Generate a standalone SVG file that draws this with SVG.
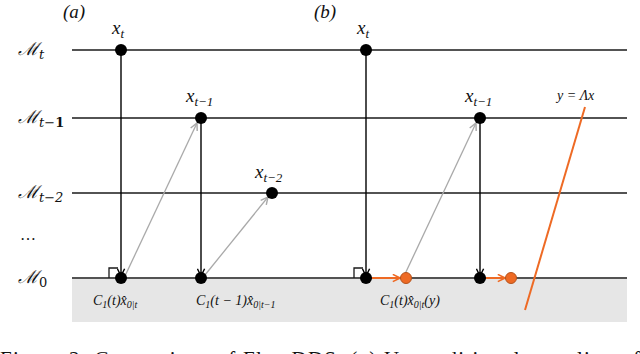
<svg xmlns="http://www.w3.org/2000/svg" width="640" height="354" viewBox="0 0 640 354">
<defs>
<style>
.lvl{stroke:#1a1a1a;stroke-width:1.3;fill:none}
.vert{stroke:#000;stroke-width:1.4;fill:none}
.gray{stroke:#a9a9a9;stroke-width:1.3;fill:none}
.or{stroke:#EE6A24;stroke-width:2;fill:none}
.dot{fill:#000}
.odot{fill:#EE6A24;stroke:#B5531C;stroke-width:1}
.m{font-family:"DejaVu Serif","Liberation Serif",serif;font-style:italic;font-size:18px;fill:#111}
.x{font-family:"Liberation Serif","DejaVu Serif",serif;font-style:italic;font-size:19px;fill:#111}
.sub{font-size:13px}
.lab{font-family:"Liberation Serif","DejaVu Serif",serif;font-style:italic;font-size:14px;fill:#111}
.cap{font-family:"Liberation Serif",serif;font-size:21px;fill:#111}
</style>
<marker id="ab" viewBox="0 0 10 10" refX="9" refY="5" markerWidth="9" markerHeight="9" markerUnits="userSpaceOnUse" orient="auto"><path d="M1,1 L9,5 L1,9" fill="none" stroke="#000" stroke-width="1.6"/></marker>
<marker id="ag" viewBox="0 0 10 10" refX="9" refY="5" markerWidth="9" markerHeight="9" markerUnits="userSpaceOnUse" orient="auto"><path d="M1,1 L9,5 L1,9" fill="none" stroke="#a9a9a9" stroke-width="1.6"/></marker>
<marker id="ao" viewBox="0 0 10 10" refX="9" refY="5" markerWidth="9" markerHeight="9" markerUnits="userSpaceOnUse" orient="auto"><path d="M1,1 L9,5 L1,9" fill="none" stroke="#EE6A24" stroke-width="1.8"/></marker>
</defs>
<rect width="640" height="354" fill="#fff"/>
<rect x="72" y="279" width="555" height="43" fill="#e6e6e6"/>

<g id="levels">
<line class="lvl" x1="72" y1="50" x2="627" y2="50"/>
<line class="lvl" x1="72" y1="118" x2="627" y2="118"/>
<line class="lvl" x1="72" y1="193" x2="627" y2="193"/>
<line class="lvl" x1="72" y1="278" x2="627" y2="278"/>
</g>

<g id="level-labels">
<text class="m" x="18" y="55">ℳ<tspan class="sub" dy="4">t</tspan></text>
<text class="m" x="18" y="123">ℳ<tspan class="sub" dy="4">t−</tspan><tspan class="sub" font-style="normal" font-weight="bold">1</tspan></text>
<text class="m" x="18" y="198">ℳ<tspan class="sub" dy="4">t−2</tspan></text>
<text x="20" y="240" font-family="Liberation Serif,serif" font-size="16" fill="#111">…</text>
<text class="m" x="18" y="283">ℳ<tspan class="sub" dy="4" font-style="normal">0</tspan></text>
<text class="x" x="63" y="18" font-size="18">(a)</text>
<text class="x" x="314" y="18" font-size="18">(b)</text>
</g>

<g id="connectors">
<line class="vert" x1="121" y1="50" x2="121" y2="276" marker-end="url(#ab)"/>
<line class="vert" x1="201" y1="118" x2="201" y2="276" marker-end="url(#ab)"/>
<line class="gray" x1="125" y1="276" x2="197" y2="123" marker-end="url(#ag)"/>
<line class="gray" x1="205" y1="275" x2="268" y2="197" marker-end="url(#ag)"/>
<path class="lvl" d="M109,278 V268 H118"/>
<line class="vert" x1="366" y1="50" x2="366" y2="276" marker-end="url(#ab)"/>
<line class="vert" x1="480" y1="118" x2="480" y2="276" marker-end="url(#ab)"/>
<line class="gray" x1="405" y1="274" x2="476" y2="123" marker-end="url(#ag)"/>
<path class="lvl" d="M354,278 V268 H363"/>
<line class="or" x1="372" y1="278" x2="400" y2="278" marker-end="url(#ao)"/>
<line class="or" x1="486" y1="278" x2="505" y2="278" marker-end="url(#ao)"/>
<line class="or" x1="585" y1="107" x2="525" y2="310"/>
</g>

<g id="node-a-xt"><circle class="dot" cx="121" cy="50" r="6"/><text class="x" x="112" y="34">x<tspan class="sub" dy="4">t</tspan></text></g>
<g id="node-a-xt1"><circle class="dot" cx="201" cy="118" r="6"/><text class="x" x="186" y="102">x<tspan class="sub" dy="4">t−1</tspan></text></g>
<g id="node-a-xt2"><circle class="dot" cx="272" cy="193" r="6"/><text class="x" x="255" y="178">x<tspan class="sub" dy="4">t−2</tspan></text></g>
<g id="node-a-c1"><circle class="dot" cx="121" cy="278" r="6"/><text class="lab" x="93" y="305">C<tspan font-size="10" dy="3">1</tspan><tspan dy="-3">(t)x̂</tspan><tspan font-size="10" dy="3">0|t</tspan></text></g>
<g id="node-a-c2"><circle class="dot" cx="201" cy="278" r="6"/><text class="lab" x="196" y="305">C<tspan font-size="10" dy="3">1</tspan><tspan dy="-3">(t − 1)x̂</tspan><tspan font-size="10" dy="3">0|t−1</tspan></text></g>

<g id="node-b-xt"><circle class="dot" cx="366" cy="50" r="6"/><text class="x" x="357" y="34">x<tspan class="sub" dy="4">t</tspan></text></g>
<g id="node-b-xt1"><circle class="dot" cx="480" cy="118" r="6"/><text class="x" x="465" y="102">x<tspan class="sub" dy="4">t−1</tspan></text></g>
<g id="node-b-m1"><circle class="dot" cx="366" cy="278" r="6"/></g>
<g id="node-b-o1"><circle class="odot" cx="406" cy="278" r="5.5"/><text class="lab" x="380" y="305">C<tspan font-size="10" dy="3">1</tspan><tspan dy="-3">(t)x̂</tspan><tspan font-size="10" dy="3">0|t</tspan><tspan dy="-3">(y)</tspan></text></g>
<g id="node-b-m2"><circle class="dot" cx="480" cy="278" r="6"/></g>
<g id="node-b-o2"><circle class="odot" cx="511" cy="278" r="5.5"/></g>
<g id="label-line"><text class="lab" x="557" y="100">y = Λx</text></g>

<text class="cap" x="0" y="366" textLength="640" lengthAdjust="spacing">Figure 2: Comparison of FlowDDS. (a) Unconditional sampling of</text>
</svg>
